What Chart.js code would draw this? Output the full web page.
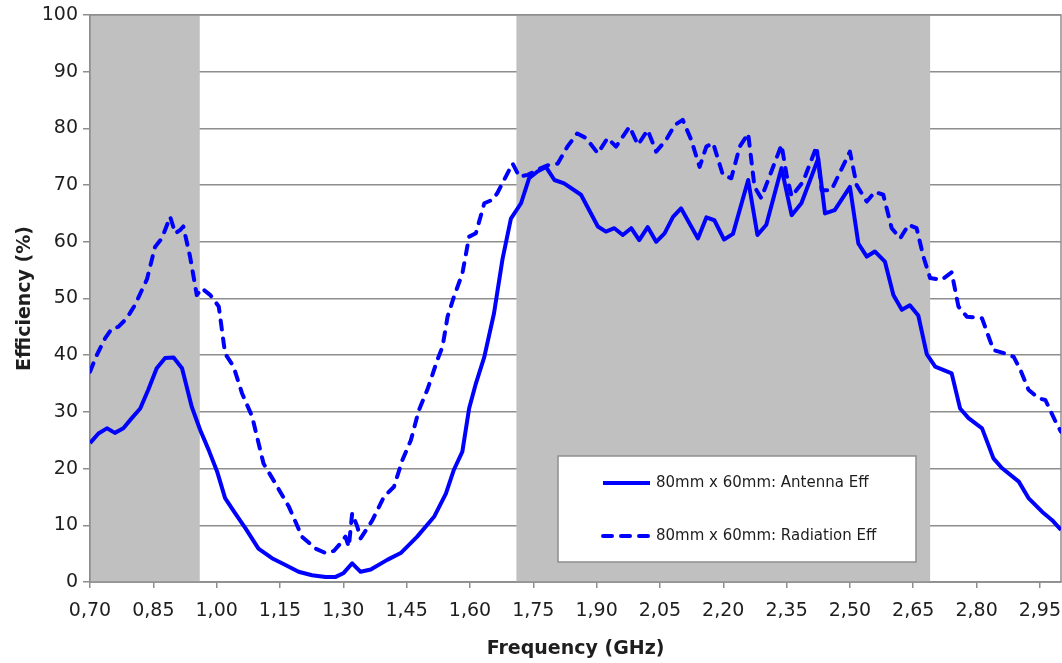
<!DOCTYPE html>
<html lang="en">
<head>
    <meta charset="UTF-8">
    <title>Efficiency vs Frequency</title>
    <script src="https://cdn.jsdelivr.net/npm/chart.js"></script>
    <style>
        body {
            margin: 0;
            background: #ffffff;
        }
        #chart {
            display: block;
        }
    </style>
</head>
<body>
    <canvas id="chart" width="1062" height="663"></canvas>

    <script>
        // Antenna efficiency (solid line)
        var antFreq = [0.700,0.720,0.740,0.759,0.779,0.799,0.819,0.838,0.858,0.878,
            0.898,0.918,0.941,0.961,0.981,1.001,1.020,1.044,1.068,1.099,
            1.131,1.163,1.194,1.226,1.258,1.282,1.301,1.321,1.341,1.365,
            1.404,1.436,1.475,1.515,1.543,1.562,1.582,1.598,1.614,1.634,
            1.657,1.677,1.697,1.721,1.740,1.760,1.780,1.800,1.823,1.863,
            1.903,1.922,1.942,1.962,1.982,2.001,2.021,2.041,2.061,2.081,
            2.100,2.140,2.160,2.179,2.202,2.223,2.259,2.281,2.302,2.338,
            2.362,2.385,2.425,2.441,2.464,2.500,2.520,2.540,2.559,2.583,
            2.603,2.623,2.642,2.662,2.682,2.702,2.741,2.761,2.781,2.813,
            2.840,2.860,2.900,2.923,2.955,2.979,3.000];
        var antEff = [24.5,26.2,27.1,26.3,27.1,28.9,30.6,33.9,37.7,39.5,
            39.6,37.7,30.9,26.8,23.3,19.5,14.8,12.1,9.5,5.9,
            4.2,3.0,1.8,1.2,0.9,0.9,1.6,3.3,1.8,2.2,
            3.9,5.1,8.0,11.5,15.6,19.8,23.0,30.6,35.0,39.7,
            47.4,56.9,64.1,66.8,71.2,72.4,73.2,70.9,70.3,68.3,
            62.7,61.8,62.4,61.2,62.4,60.3,62.6,60.0,61.5,64.4,
            65.9,60.6,64.3,63.8,60.4,61.4,70.9,61.2,63.0,73.0,
            64.7,66.8,74.7,65.0,65.6,69.7,59.7,57.4,58.3,56.5,
            50.6,48.0,48.8,47.0,40.2,38.0,36.8,30.6,28.9,27.1,
            21.8,20.1,17.7,14.8,12.4,10.9,9.2];

        // Radiation efficiency (dashed line)
        var radFreq = [0.700,0.716,0.736,0.752,0.767,0.787,0.807,0.823,0.835,0.854,
            0.870,0.890,0.902,0.914,0.921,0.937,0.953,0.965,0.985,1.005,
            1.020,1.040,1.060,1.084,1.111,1.139,1.171,1.202,1.234,1.258,
            1.278,1.293,1.305,1.313,1.321,1.333,1.341,1.369,1.396,1.420,
            1.440,1.460,1.479,1.499,1.523,1.535,1.547,1.562,1.582,1.598,
            1.614,1.634,1.653,1.665,1.685,1.701,1.717,1.737,1.760,1.784,
            1.808,1.831,1.854,1.875,1.903,1.926,1.946,1.978,1.998,2.021,
            2.041,2.065,2.085,2.104,2.124,2.144,2.160,2.176,2.199,2.219,
            2.239,2.259,2.274,2.290,2.314,2.338,2.350,2.362,2.389,2.421,
            2.433,2.456,2.500,2.516,2.540,2.559,2.579,2.599,2.619,2.639,
            2.658,2.674,2.690,2.717,2.741,2.757,2.777,2.813,2.840,2.868,
            2.888,2.904,2.923,2.947,2.963,2.987,3.000];
        var radEff = [37.1,40.0,43.0,44.7,45.0,46.5,48.9,51.5,53.4,59.1,
            60.6,64.4,61.5,62.1,62.7,57.4,50.6,51.8,50.6,48.6,
            40.3,38.0,33.3,29.2,20.9,17.4,13.3,8.0,5.9,5.1,
            5.5,6.8,8.0,6.2,12.1,9.8,7.7,10.9,15.0,16.8,
            21.5,25.0,30.3,33.9,39.2,41.5,46.8,50.3,54.4,60.9,
            61.5,66.8,67.4,68.6,71.5,73.8,71.5,71.8,72.7,73.5,
            73.8,76.8,79.1,78.3,75.6,78.3,76.8,80.3,77.1,79.7,
            75.9,78.0,80.6,81.5,78.0,73.2,76.8,77.4,71.8,71.2,
            76.8,79.1,69.7,67.7,72.4,77.1,71.8,68.0,70.6,76.8,
            69.1,69.1,75.9,70.0,67.1,68.8,68.3,62.4,60.6,63.0,
            62.4,57.4,53.6,53.3,54.6,48.6,46.8,46.5,40.9,40.3,
            39.7,37.4,33.9,32.4,32.1,28.3,26.5];

        var xTicks = [0.70,0.85,1.00,1.15,1.30,1.45,1.60,1.75,1.90,2.05,2.20,2.35,2.50,2.65,2.80,2.95];
        var bands = [[0.70, 0.96], [1.71, 2.69]];   // shaded frequency bands
        var seriesLabels = ['80mm x 60mm: Antenna Eff', '80mm x 60mm: Radiation Eff'];

        var gridColor = '#8e8e8e';
        var textColor = '#1e1e1e';

        function toPoints(xs, ys) {
            return xs.map(function (x, i) { return { x: x, y: ys[i] }; });
        }

        // gray bands go over the gridlines but under the curves
        var bandPlugin = {
            id: 'bands',
            beforeDatasetsDraw: function (chart) {
                var ctx = chart.ctx;
                var a = chart.chartArea;
                var xs = chart.scales.x;
                ctx.save();
                ctx.fillStyle = '#c0c0c0';
                bands.forEach(function (b) {
                    var x1 = xs.getPixelForValue(b[0]);
                    var x2 = xs.getPixelForValue(b[1]);
                    ctx.fillRect(x1, a.top, x2 - x1, a.bottom - a.top);
                });
                ctx.strokeStyle = gridColor;
                ctx.lineWidth = 1.5;
                ctx.strokeRect(a.left, a.top, a.right - a.left, a.bottom - a.top);
                ctx.restore();
            }
        };

        // legend box inside the plot, like the original
        var boxLegend = {
            id: 'boxLegend',
            afterDatasetsDraw: function (chart) {
                var ctx = chart.ctx;
                var bx = 558, by = 456, bw = 358, bh = 106;
                ctx.save();
                ctx.fillStyle = '#ffffff';
                ctx.fillRect(bx, by, bw, bh);
                ctx.strokeStyle = gridColor;
                ctx.lineWidth = 1.5;
                ctx.strokeRect(bx, by, bw, bh);
                var rows = [483, 536];
                chart.data.datasets.forEach(function (ds, i) {
                    ctx.beginPath();
                    ctx.strokeStyle = ds.borderColor;
                    ctx.lineWidth = ds.borderWidth;
                    ctx.lineCap = ds.borderCapStyle || 'butt';
                    ctx.setLineDash(ds.borderDash || []);
                    ctx.moveTo(603, rows[i]);
                    ctx.lineTo(650, rows[i]);
                    ctx.stroke();
                    ctx.setLineDash([]);
                    ctx.fillStyle = textColor;
                    ctx.font = '15px "DejaVu Sans"';
                    ctx.textBaseline = 'middle';
                    ctx.textAlign = 'left';
                    ctx.fillText(ds.label, 656, rows[i]);
                });
                ctx.restore();
            }
        };

        var ctx = document.getElementById('chart').getContext('2d');
        var chart = new Chart(ctx, {
            type: 'line',
            data: {
                datasets: [
                    {
                        label: seriesLabels[0],
                        data: toPoints(antFreq, antEff),
                        borderColor: '#0000ff',
                        borderWidth: 4,
                        borderJoinStyle: 'round',
                        pointRadius: 0,
                        tension: 0,
                        fill: false
                    },
                    {
                        label: seriesLabels[1],
                        data: toPoints(radFreq, radEff),
                        borderColor: '#0000ff',
                        borderWidth: 4,
                        borderDash: [9, 9],
                        borderCapStyle: 'round',
                        borderJoinStyle: 'round',
                        pointRadius: 0,
                        tension: 0,
                        fill: false
                    }
                ]
            },
            options: {
                responsive: false,
                animation: false,
                layout: {
                    padding: { top: 15, right: 1, left: 0, bottom: 0 }
                },
                plugins: {
                    legend: { display: false },
                    tooltip: { enabled: false }
                },
                scales: {
                    x: {
                        type: 'linear',
                        min: 0.70,
                        max: 3.00,
                        afterBuildTicks: function (scale) {
                            scale.ticks = xTicks.map(function (v) { return { value: v }; });
                        },
                        afterFit: function (scale) {
                            scale.height = 81;
                            scale.paddingLeft = 0;
                            scale.paddingRight = 0;
                        },
                        ticks: {
                            autoSkip: false,
                            maxRotation: 0,
                            padding: 12,
                            color: textColor,
                            font: { family: 'DejaVu Sans', size: 19 },
                            callback: function (v) {
                                return Number(v).toFixed(2).replace('.', ',');
                            }
                        },
                        grid: {
                            drawOnChartArea: false,
                            drawTicks: true,
                            tickLength: 6,
                            color: gridColor,
                            lineWidth: 1.5
                        },
                        border: { color: gridColor, width: 1.5 },
                        title: {
                            display: true,
                            text: 'Frequency (GHz)',
                            color: textColor,
                            font: { family: 'DejaVu Sans', size: 19, weight: 'bold' },
                            padding: { top: 0, bottom: 3 }
                        }
                    },
                    y: {
                        min: 0,
                        max: 100,
                        afterFit: function (scale) {
                            scale.width = 90;
                            scale.paddingTop = 0;
                            scale.paddingBottom = 0;
                        },
                        ticks: {
                            stepSize: 10,
                            padding: 5,
                            color: textColor,
                            font: { family: 'DejaVu Sans', size: 19 }
                        },
                        grid: {
                            color: gridColor,
                            lineWidth: 1.5,
                            tickLength: 7
                        },
                        border: { color: gridColor, width: 1.5 },
                        title: {
                            display: true,
                            text: 'Efficiency (%)',
                            color: textColor,
                            font: { family: 'DejaVu Sans', size: 19, weight: 'bold' },
                            padding: { top: 14, bottom: 0 }
                        }
                    }
                }
            },
            plugins: [bandPlugin, boxLegend]
        });
    </script>
</body>
</html>
